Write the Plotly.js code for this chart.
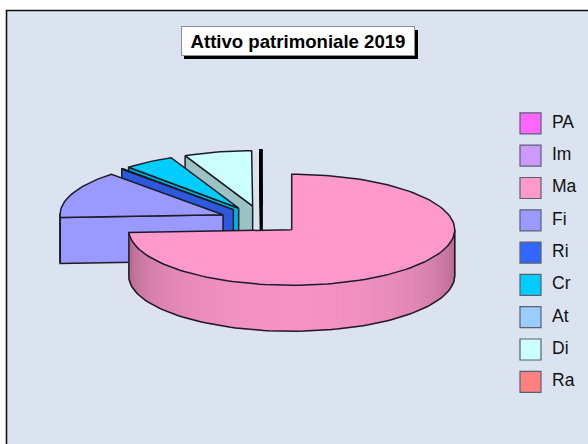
<!DOCTYPE html>
<html><head><meta charset="utf-8">
<script src="https://cdn.plot.ly/plotly-3.0.1.min.js"></script>
<style>html,body{margin:0;padding:0;background:#fff}#c{width:588px;height:444px}</style>
</head><body><div id="c"></div>
<script>
const categories = ["PA","Im","Ma","Fi","Ri","Cr","At","Di","Ra"];
const values = [0,0,74.2,13.8,0.2,5.0,0,6.7,0.1];
const colors = ["#FF66FF","#CC99FF","#FF99CC","#9999FF","#3366FF","#00CCFF","#99CCFF","#CCFFFF","#FF8080"];
const titleText = "Attivo patrimoniale 2019";

const W=588,H=444;
const cx=261.6, cy=220, rx=163, ry=55.5, depth=46, explode=0.255;
const outline="#1c1c26", lw=1.5;

function shade(hex,f){
  const n=parseInt(hex.slice(1),16);
  const c=[(n>>16)&255,(n>>8)&255,n&255].map(v=>Math.round(v*f));
  return `rgb(${c[0]},${c[1]},${c[2]})`;
}
const traces=[];
function poly(xs,ys,fill,line,width){
  traces.push({type:"scatter",mode:"lines",x:xs.concat(xs[0]),y:ys.concat(ys[0]),fill:"toself",fillcolor:fill,
    line:{color:line||fill,width:width===undefined?lw:width},hoverinfo:"skip",showlegend:false});
}
function path(xs,ys){
  traces.push({type:"scatter",mode:"lines",x:xs,y:ys,line:{color:outline,width:lw},hoverinfo:"skip",showlegend:false});
}
const total=values.reduce((a,b)=>a+b,0);
let acc=0;
const slices=values.map((v,i)=>{const a0=acc/total*2*Math.PI;acc+=v;const a1=acc/total*2*Math.PI;return {i,v,a0,a1};});

slices.slice().reverse().forEach(s=>{
  if(s.v<=0) return;
  const mid=(s.a0+s.a1)/2;
  const ox=cx+explode*rx*Math.sin(mid), oy=cy-explode*ry*Math.cos(mid);
  const px=t=>ox+rx*Math.sin(t), py=t=>oy-ry*Math.cos(t);
  const col=colors[s.i];
  const thin=s.v<0.15;
  const w=thin?2.8:lw, edge=thin?"#000":outline;
  const endFront=Math.sin(s.a1);
  if(endFront>0.02){
    const f=.6+.4*endFront;
    poly([ox,px(s.a1),px(s.a1),ox],[oy,py(s.a1),py(s.a1)+depth,oy+depth],shade(col,f),edge,w);
  }
  const startFront=-Math.sin(s.a0);
  if(startFront>0.001){
    const f=.6+.4*startFront;
    poly([ox,px(s.a0),px(s.a0),ox],[oy,py(s.a0),py(s.a0)+depth,oy+depth],shade(col,f),edge,w);
  }
  const step=2*Math.PI/180;
  const ts=[];
  for(let t=s.a0;t<s.a1;t+=step){
    const t2=Math.min(t+step,s.a1), m=(t+t2)/2, front=-Math.cos(m);
    if(front<-0.01) continue;
    const f=.63+.33*Math.pow(Math.max(front,0),.7);
    poly([px(t),px(t2),px(t2),px(t)],[py(t),py(t2),py(t2)+depth,py(t)+depth],shade(col,f),null,1.3);
    if(!ts.length) ts.push(t);
    ts.push(t2);
  }
  if(ts.length){
    path(ts.map(px),ts.map(t=>py(t)+depth));
    path([px(ts[0]),px(ts[0])],[py(ts[0]),py(ts[0])+depth]);
    const e=ts[ts.length-1];
    path([px(e),px(e)],[py(e),py(e)+depth]);
  }
  const tx=[ox],ty=[oy];
  const n=Math.max(2,Math.ceil((s.a1-s.a0)/step));
  for(let k=0;k<=n;k++){const t=s.a0+(s.a1-s.a0)*k/n;tx.push(px(t));ty.push(py(t));}
  poly(tx,ty,col,edge,w);
});

const legX=categories.map(()=>530.5);
const legY=categories.map((c,i)=>123.4+i*32.3);
traces.push({type:"scatter",mode:"markers",x:legX,y:legY,
  marker:{symbol:"square",size:21,color:colors,line:{color:"#5a6070",width:1.2}},hoverinfo:"skip",showlegend:false});
traces.push({type:"scatter",mode:"text",x:legX.map(v=>v+21.5),y:legY,text:categories,textposition:"middle right",
  textfont:{family:"Liberation Sans, Arial, sans-serif",size:17.5,color:"#111"},hoverinfo:"skip",showlegend:false});

const layout={
  width:W,height:H,margin:{l:0,r:0,t:0,b:0},paper_bgcolor:"#fff",plot_bgcolor:"rgba(0,0,0,0)",
  showlegend:false,
  xaxis:{range:[0,W],visible:false,fixedrange:true},
  yaxis:{range:[H,0],visible:false,fixedrange:true},
  shapes:[
    {type:"rect",layer:"below",x0:6.5,y0:10.5,x1:W+5,y1:H+5,fillcolor:"#DAE3EF",line:{color:"#111",width:1.6}},
    {type:"rect",layer:"below",x0:184,y0:30,x1:418,y1:59,fillcolor:"#000",line:{width:0}}
  ],
  annotations:[{x:298,y:41,xref:"x",yref:"y",xanchor:"center",yanchor:"middle",text:"<b>"+titleText+"</b>",showarrow:false,
    width:232,height:28,bgcolor:"#fff",bordercolor:"#8a8f98",borderwidth:1,borderpad:0,
    font:{family:"Liberation Sans, Arial, sans-serif",size:18.6,color:"#000"}}]
};
Plotly.newPlot("c",traces,layout,{displayModeBar:false,staticPlot:true});
</script></body></html>
